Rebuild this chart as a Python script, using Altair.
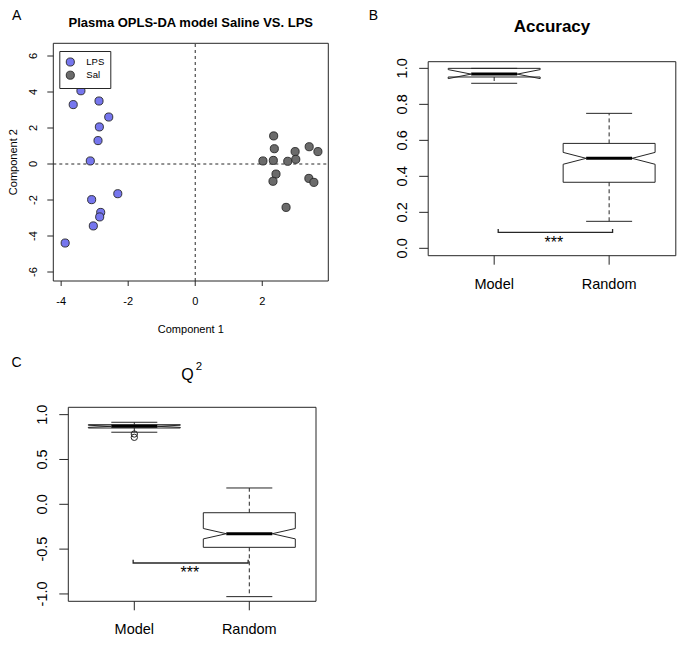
import altair as alt
import pandas as pd

# ---------------- data ----------------
# Panel A : OPLS-DA scores
lps_x = [-3.41, -3.64, -2.87, -2.58, -2.86, -2.90, -3.13, -2.31, -3.09, -2.82, -2.85, -3.04, -3.88]
lps_y = [4.07, 3.30, 3.50, 2.61, 2.06, 1.30, 0.17, -1.65, -1.98, -2.69, -2.94, -3.44, -4.39]
sal_x = [2.34, 2.36, 2.02, 2.33, 2.76, 2.98, 3.00, 3.40, 3.66, 2.41, 2.32, 3.39, 3.54, 2.71]
sal_y = [1.56, 0.85, 0.17, 0.20, 0.15, 0.69, 0.26, 0.96, 0.69, -0.56, -0.96, -0.80, -1.02, -2.41]
series_names = ["LPS", "Sal"]
a_xdomain = [-4.234, 3.97]
a_ydomain = [-6.5, 6.706]
a_xticks = [-4, -2, 0, 2]
a_yticks = [-6, -4, -2, 0, 2, 4, 6]

# Panels B / C : permutation box plots
box_groups = ["Model", "Random"]
acc_low = [0.917, 0.150]
acc_q1 = [0.952, 0.367]
acc_med = [0.968, 0.500]
acc_q3 = [1.000, 0.583]
acc_high = [1.000, 0.750]
acc_notch = [0.025, 0.033]
acc_bracket_x = [1.035, 1.035, 2.03, 2.03]
acc_bracket_y = [0.107, 0.089, 0.089, 0.107]
acc_yticks = [0.0, 0.2, 0.4, 0.6, 0.8, 1.0]
b_xdomain = [0.426, 2.58]
b_ydomain = [-0.041, 1.037]

q2_low = [0.804, -1.030]
q2_q1 = [0.851, -0.480]
q2_med = [0.870, -0.328]
q2_q3 = [0.888, -0.094]
q2_high = [0.915, 0.182]
q2_notch = [0.012, 0.058]
q2_out_group = ["Model", "Model"]
q2_out = [0.784, 0.747]
q2_bracket_x = [0.99, 0.99, 1.99, 1.99]
q2_bracket_y = [-0.618, -0.655, -0.655, -0.618]
q2_yticks = [-1.0, -0.5, 0.0, 0.5, 1.0]
c_xdomain = [0.426, 2.58]
c_ydomain = [-1.082, 1.082]

# ---------------- layout / style ----------------
W, H = 669, 628
FONT = "Liberation Sans"
INK = "#262626"
BLUE = "#7676EE"
GRAY = "#6B6B6B"
BOXW = 0.4      # half box width
NOTCHW = 0.2    # notch inset / cap half width

a_xrange = [45.3, 320.3]
a_yrange = [273.0, 35.3]
b_xrange = [420.2, 667.8]
b_yrange = [247.7, 53.7]
c_xrange = [60.3, 308.0]
c_yrange = [593.3, 399.3]


def sc(domain, rng):
    return alt.Scale(domain=domain, range=rng, nice=False, zero=False)


def inv(px, dom, rng):
    """pixel position inside a panel -> value on that panel's scale"""
    return dom[0] + (px - rng[0]) * (dom[1] - dom[0]) / (rng[1] - rng[0])


def frame(xs, ys, dx, dy):
    df = pd.DataFrame({"x": [dx[0]], "x2": [dx[1]], "y": [dy[0]], "y2": [dy[1]]})
    return alt.Chart(df).mark_rect(fillOpacity=0, stroke=INK, strokeWidth=1).encode(
        x=alt.X("x:Q", scale=xs, axis=None), x2="x2:Q",
        y=alt.Y("y:Q", scale=ys, axis=None), y2="y2:Q")


def label(text, x, y, xs, ys, size, weight="normal", align="center", angle=0):
    df = pd.DataFrame({"x": [x], "y": [y], "t": [text]})
    return alt.Chart(df).mark_text(font=FONT, fontSize=size, fontWeight=weight, align=align,
                                   baseline="alphabetic", color="black", angle=angle).encode(
        x=alt.X("x:Q", scale=xs, axis=None), y=alt.Y("y:Q", scale=ys, axis=None), text="t:N")


def axes(xs, ys, dx, dy, rx, ry, xticks, xlabels, yticks, ylabels,
         xtick_len, ytick_len, xlab_gap, ylab_gap, size):
    """R-style axes: ticks out of the box, rotated y labels"""
    ybot = dy[0]
    xleft = dx[0]
    y_tick_end = inv(ry[0] + xtick_len, dy, ry)
    x_tick_end = inv(rx[0] - ytick_len, dx, rx)
    tick_df = pd.DataFrame({
        "x": list(xticks) + [xleft] * len(yticks),
        "x2": list(xticks) + [x_tick_end] * len(yticks),
        "y": [ybot] * len(xticks) + list(yticks),
        "y2": [y_tick_end] * len(xticks) + list(yticks),
    })
    ticks = alt.Chart(tick_df).mark_rule(color=INK, strokeWidth=1).encode(
        x=alt.X("x:Q", scale=xs, axis=None), x2="x2:Q",
        y=alt.Y("y:Q", scale=ys, axis=None), y2="y2:Q")
    xl_df = pd.DataFrame({"x": list(xticks), "y": [inv(ry[0] + xlab_gap, dy, ry)] * len(xticks),
                          "t": list(xlabels)})
    xl = alt.Chart(xl_df).mark_text(font=FONT, fontSize=size, align="center", baseline="alphabetic",
                                    color="black").encode(
        x=alt.X("x:Q", scale=xs, axis=None), y=alt.Y("y:Q", scale=ys, axis=None), text="t:N")
    yl_df = pd.DataFrame({"x": [inv(rx[0] - ylab_gap, dx, rx)] * len(yticks), "y": list(yticks),
                          "t": list(ylabels)})
    yl = alt.Chart(yl_df).mark_text(font=FONT, fontSize=size, align="center", baseline="alphabetic",
                                    angle=270, color="black").encode(
        x=alt.X("x:Q", scale=xs, axis=None), y=alt.Y("y:Q", scale=ys, axis=None), text="t:N")
    return [ticks, xl, yl]


def fmt1(v):
    s = "%.1f" % abs(v)
    return ("-" + s) if v < 0 else s


# ---------------- Panel A ----------------
a_xs = sc(a_xdomain, a_xrange)
a_ys = sc(a_ydomain, a_yrange)

pts = pd.DataFrame({
    "x": lps_x + sal_x,
    "y": lps_y + sal_y,
    "group": [series_names[0]] * len(lps_x) + [series_names[1]] * len(sal_x),
})

points = alt.Chart(pts).mark_circle(size=66, opacity=1, stroke=INK, strokeWidth=0.9).encode(
    x=alt.X("x:Q", scale=a_xs, axis=None),
    y=alt.Y("y:Q", scale=a_ys, axis=None),
    color=alt.Color("group:N", scale=alt.Scale(domain=series_names, range=[BLUE, GRAY]),
                    legend=alt.Legend(orient="none", legendX=51.3, legendY=43, title=None,
                                      direction="vertical", strokeColor=INK, fillColor="white",
                                      padding=6, cornerRadius=0, symbolType="circle", symbolSize=66,
                                      symbolStrokeColor=INK, symbolStrokeWidth=0.9, symbolOpacity=1,
                                      labelFont=FONT, labelFontSize=9.5, labelColor="black",
                                      labelOffset=11, rowPadding=1.2)),
)

zero_v = alt.Chart(pd.DataFrame({"x": [0.0], "y": [a_ydomain[0]], "y2": [a_ydomain[1]]})).mark_rule(
    color=INK, strokeWidth=1, strokeDash=[3, 3]).encode(
    x=alt.X("x:Q", scale=a_xs, axis=None), y=alt.Y("y:Q", scale=a_ys, axis=None), y2="y2:Q")
zero_h = alt.Chart(pd.DataFrame({"x": [a_xdomain[0]], "x2": [a_xdomain[1]], "y": [0.0]})).mark_rule(
    color=INK, strokeWidth=1, strokeDash=[3, 3]).encode(
    x=alt.X("x:Q", scale=a_xs, axis=None), x2="x2:Q", y=alt.Y("y:Q", scale=a_ys, axis=None))

a_midx = (a_xdomain[0] + a_xdomain[1]) / 2
a_midy = (a_ydomain[0] + a_ydomain[1]) / 2
panel_a = alt.layer(
    frame(a_xs, a_ys, a_xdomain, a_ydomain),
    *axes(a_xs, a_ys, a_xdomain, a_ydomain, a_xrange, a_yrange,
          a_xticks, [str(t) for t in a_xticks], a_yticks, [str(t) for t in a_yticks],
          5, 6, 24, 16.6, 11),
    zero_v, zero_h, points,
    label("Component 1", a_midx, inv(a_yrange[0] + 52, a_ydomain, a_yrange), a_xs, a_ys, 11),
    label("Component 2", inv(8.5, a_xdomain, a_xrange), a_midy, a_xs, a_ys, 11, angle=270),
    label("Plasma OPLS-DA model Saline VS. LPS", a_midx, inv(18.5, a_ydomain, a_yrange),
          a_xs, a_ys, 13, "bold"),
    label("A", inv(8.7, a_xdomain, a_xrange), inv(11.5, a_ydomain, a_yrange), a_xs, a_ys, 14),
)


# ---------------- box plot panel builder ----------------
def box_panel(xs, ys, dx, dy, rx, ry, low, q1, med, q3, high, notch, yticks,
              bracket_x, bracket_y, star_xy):
    pos = [i + 1 for i in range(len(box_groups))]
    rows = []
    for g, c, a, m, b, n in zip(box_groups, pos, q1, med, q3, notch):
        poly = [(c - BOXW, a), (c - BOXW, m - n), (c - NOTCHW, m), (c - BOXW, m + n), (c - BOXW, b),
                (c + BOXW, b), (c + BOXW, m + n), (c + NOTCHW, m), (c + BOXW, m - n), (c + BOXW, a),
                (c - BOXW, a)]
        for k, (px, py) in enumerate(poly):
            rows.append({"g": g, "o": k, "x": px, "y": py})
    poly_df = pd.DataFrame(rows)
    boxes = alt.Chart(poly_df).mark_line(color=INK, strokeWidth=1).encode(
        x=alt.X("x:Q", scale=xs, axis=None), y=alt.Y("y:Q", scale=ys, axis=None),
        order="o:Q", detail="g:N")

    med_df = pd.DataFrame({"x": [c - NOTCHW for c in pos], "x2": [c + NOTCHW for c in pos], "y": med})
    medians = alt.Chart(med_df).mark_rule(color="black", strokeWidth=3, strokeCap="butt").encode(
        x=alt.X("x:Q", scale=xs, axis=None), x2="x2:Q", y=alt.Y("y:Q", scale=ys, axis=None))

    wh_df = pd.DataFrame({"x": pos + pos, "y": list(q3) + list(q1), "y2": list(high) + list(low)})
    whiskers = alt.Chart(wh_df).mark_rule(color=INK, strokeWidth=1, strokeDash=[4, 3]).encode(
        x=alt.X("x:Q", scale=xs, axis=None), y=alt.Y("y:Q", scale=ys, axis=None), y2="y2:Q")

    cap_df = pd.DataFrame({"x": [c - NOTCHW for c in pos] * 2, "x2": [c + NOTCHW for c in pos] * 2,
                           "y": list(high) + list(low)})
    caps = alt.Chart(cap_df).mark_rule(color=INK, strokeWidth=1).encode(
        x=alt.X("x:Q", scale=xs, axis=None), x2="x2:Q", y=alt.Y("y:Q", scale=ys, axis=None))

    br_df = pd.DataFrame({"x": bracket_x, "y": bracket_y, "o": list(range(len(bracket_x)))})
    bracket = alt.Chart(br_df).mark_line(color=INK, strokeWidth=1.3).encode(
        x=alt.X("x:Q", scale=xs, axis=None), y=alt.Y("y:Q", scale=ys, axis=None), order="o:Q")

    stars = label("***", star_xy[0], star_xy[1], xs, ys, 16)
    ax = axes(xs, ys, dx, dy, rx, ry, pos, box_groups, yticks, [fmt1(v) for v in yticks],
              9, 9, 32.8, 21.7, 14.5)
    return [frame(xs, ys, dx, dy), *ax, whiskers, caps, boxes, medians, bracket, stars]


# ---------------- Panel B ----------------
b_xs = sc(b_xdomain, b_xrange)
b_ys = sc(b_ydomain, b_yrange)
panel_b = alt.layer(
    *box_panel(b_xs, b_ys, b_xdomain, b_ydomain, b_xrange, b_yrange, acc_low, acc_q1, acc_med,
               acc_q3, acc_high, acc_notch, acc_yticks, acc_bracket_x, acc_bracket_y, (1.52, 0.004)),
    label("Accuracy", (b_xdomain[0] + b_xdomain[1]) / 2, inv(24.3, b_ydomain, b_yrange),
          b_xs, b_ys, 17, "bold"),
    label("B", inv(365.3, b_xdomain, b_xrange), inv(11.5, b_ydomain, b_yrange), b_xs, b_ys, 14),
)

# ---------------- Panel C ----------------
c_xs = sc(c_xdomain, c_xrange)
c_ys = sc(c_ydomain, c_yrange)
out_df = pd.DataFrame({"x": [box_groups.index(g) + 1 for g in q2_out_group], "y": q2_out})
outliers = alt.Chart(out_df).mark_point(shape="circle", filled=False, size=40, stroke=INK,
                                        strokeWidth=1, opacity=1).encode(
    x=alt.X("x:Q", scale=c_xs, axis=None), y=alt.Y("y:Q", scale=c_ys, axis=None))
panel_c = alt.layer(
    *box_panel(c_xs, c_ys, c_xdomain, c_ydomain, c_xrange, c_yrange, q2_low, q2_q1, q2_med,
               q2_q3, q2_high, q2_notch, q2_yticks, q2_bracket_x, q2_bracket_y, (1.484, -0.822)),
    outliers,
    label("Q", 1.463, 1.392, c_xs, c_ys, 16),
    label("2", 1.534, 1.501, c_xs, c_ys, 11.5, align="left"),
    label("C", -0.023, 1.528, c_xs, c_ys, 14),
)

chart = alt.layer(panel_a, panel_b, panel_c).resolve_scale(
    x="independent", y="independent").properties(
    width=W, height=H, padding=0, autosize=alt.AutoSizeParams(type="none")).configure(
    font=FONT, background="white").configure_view(strokeWidth=0, stroke="transparent")

chart.save("out.html", embed_options={"renderer": "svg", "actions": False})
